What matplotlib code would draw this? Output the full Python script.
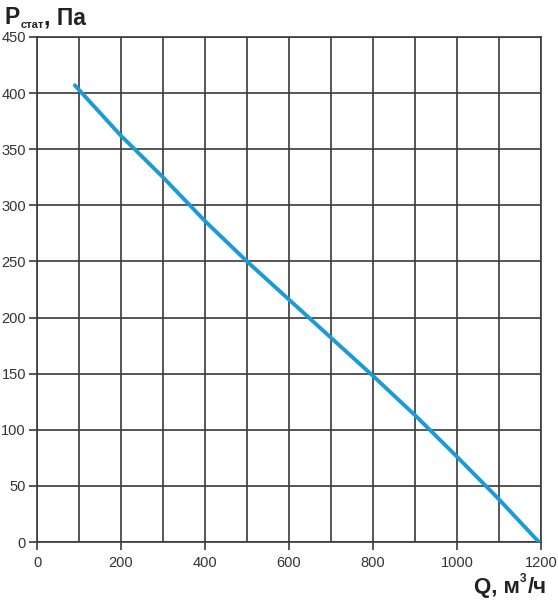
import matplotlib
matplotlib.use("Agg")
import matplotlib.pyplot as plt
import numpy as np

plt.rcParams['font.family'] = ['Liberation Sans', 'DejaVu Sans']

q = [90, 200, 300, 400, 500, 600, 700, 800, 900, 1000, 1100, 1195]
p = [407, 362, 325, 286, 250, 216, 182, 148, 113, 76, 38, 0]
xticks = [0, 200, 400, 600, 800, 1000, 1200]
yticks = [0, 50, 100, 150, 200, 250, 300, 350, 400, 450]

fig = plt.figure(figsize=(5.58, 6.0), dpi=100)
fig.patch.set_facecolor('white')
ax = fig.add_axes([37/558, 58/600, 504/558, 505/600])
ax.set_xlim(0, 1200)
ax.set_ylim(0, 450)
ax.set_xticks(xticks)
ax.set_xticks(np.arange(0, 1201, 100), minor=True)
ax.set_yticks(yticks)
gc = '#3a3a3a'
ax.grid(True, which='both', color=gc, linewidth=1.2)
ax.set_axisbelow(True)
for s in ax.spines.values():
    s.set_color(gc)
    s.set_linewidth(1.2)
ax.tick_params(axis='both', which='major', direction='out', length=6, width=1.2,
               color=gc, labelsize=10.5, labelcolor='#333333', pad=2)
ax.tick_params(axis='x', which='major', pad=4)
ax.tick_params(axis='both', which='minor', length=0)
ax.plot(q, p, color='#1a9ad6', linewidth=2.8, solid_capstyle='round', zorder=3)

tc = '#222222'
fig.text(4/558, 1 - 24/600, 'P', fontsize=16.5, fontweight='bold', color=tc)
fig.text(21/558, 1 - 28/600, 'стат', fontsize=8, fontweight='bold', color=tc)
fig.text(44/558, 1 - 24/600, ', Па', fontsize=16.5, fontweight='bold', color=tc)

fig.text(474/558, 1 - 593/600, 'Q, м', fontsize=16, fontweight='bold', color=tc)
fig.text(520/558, 1 - 582/600, '3', fontsize=8.5, fontweight='bold', color=tc)
fig.text(528/558, 1 - 593/600, '/ч', fontsize=16, fontweight='bold', color=tc)

fig.savefig('out.png', dpi=100)
